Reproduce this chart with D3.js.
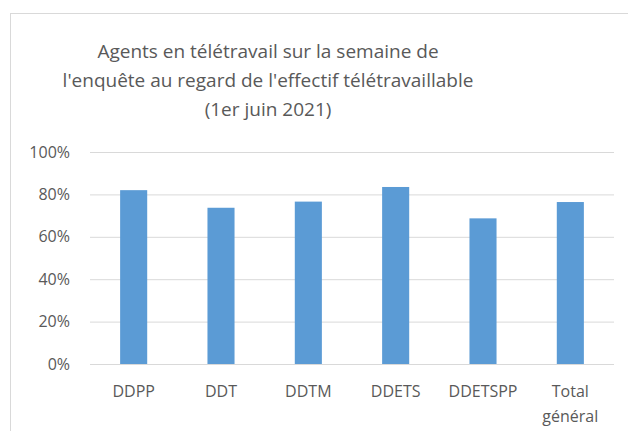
<!DOCTYPE html>
<html>
<head>
<meta charset="utf-8">
<script src="https://d3js.org/d3.v7.min.js"></script>
<style>
  body { margin: 0; background: #fff; }
  svg { font-family: "Open Sans", sans-serif; }
</style>
</head>
<body>
<div id="viz"></div>
<script>
var categories = ["DDPP", "DDT", "DDTM", "DDETS", "DDETSPP", "Total général"],
    values = [0.82, 0.737, 0.766, 0.835, 0.687, 0.764],
    yTicks = [0, 0.2, 0.4, 0.6, 0.8, 1],
    titleLines = ["Agents en télétravail sur la semaine de",
                  "l'enquête au regard de l'effectif télétravaillable",
                  "(1er juin 2021)"];

var width = 628, height = 431,
    plot = { left: 90, right: 614, top: 152, bottom: 364 },
    barColor = "#5b9bd5",
    textColor = "#595959";

var svg = d3.select('#viz').append('svg')
    .attr('width', width)
    .attr('height', height);

// chart frame
svg.append('rect')
    .attr('x', 10.5).attr('y', 13.5)
    .attr('width', 640).attr('height', 440)
    .attr('fill', 'none')
    .attr('stroke', '#d9d9d9');

// title
svg.append('g').selectAll('text').data(titleLines)
    .enter().append('text')
    .attr('x', 268)
    .attr('y', function(d, i) { return 58 + i * 29; })
    .attr('text-anchor', 'middle')
    .attr('fill', textColor)
    .style('font-size', '19px')
    .text(function(d) { return d; });

var x = d3.scaleBand()
    .domain(categories)
    .range([plot.left, plot.right])
    .paddingInner(0.69)
    .paddingOuter(0.345);

var y = d3.scaleLinear()
    .domain([0, 1])
    .range([plot.bottom, plot.top]);

// gridlines + y labels
var yAxis = d3.axisLeft(y)
    .tickValues(yTicks)
    .tickFormat(d3.format('.0%'))
    .tickSize(-(plot.right - plot.left))
    .tickPadding(20);

var yG = svg.append('g')
    .attr('transform', 'translate(' + plot.left + ',0)')
    .call(yAxis);
yG.select('.domain').remove();
yG.selectAll('line').attr('stroke', '#d9d9d9');
yG.selectAll('text')
    .attr('fill', textColor)
    .style('font-size', '16px')
    .style('font-family', '"Open Sans", sans-serif');

// bars
svg.append('g').selectAll('rect').data(values)
    .enter().append('rect')
    .attr('x', function(d, i) { return x(categories[i]); })
    .attr('width', x.bandwidth())
    .attr('y', function(d) { return y(d); })
    .attr('height', function(d) { return y(0) - y(d); })
    .attr('fill', barColor);

// category labels (wrap on space for the last one)
var xG = svg.append('g');
categories.forEach(function(c) {
    var words = c.split(' ');
    var t = xG.append('text')
        .attr('x', x(c) + x.bandwidth() / 2)
        .attr('y', 397)
        .attr('text-anchor', 'middle')
        .attr('fill', textColor)
        .style('font-size', '16px');
    words.forEach(function(w, i) {
        t.append('tspan')
            .attr('x', x(c) + x.bandwidth() / 2)
            .attr('dy', i === 0 ? 0 : 25)
            .text(w);
    });
});
</script>
</body>
</html>
